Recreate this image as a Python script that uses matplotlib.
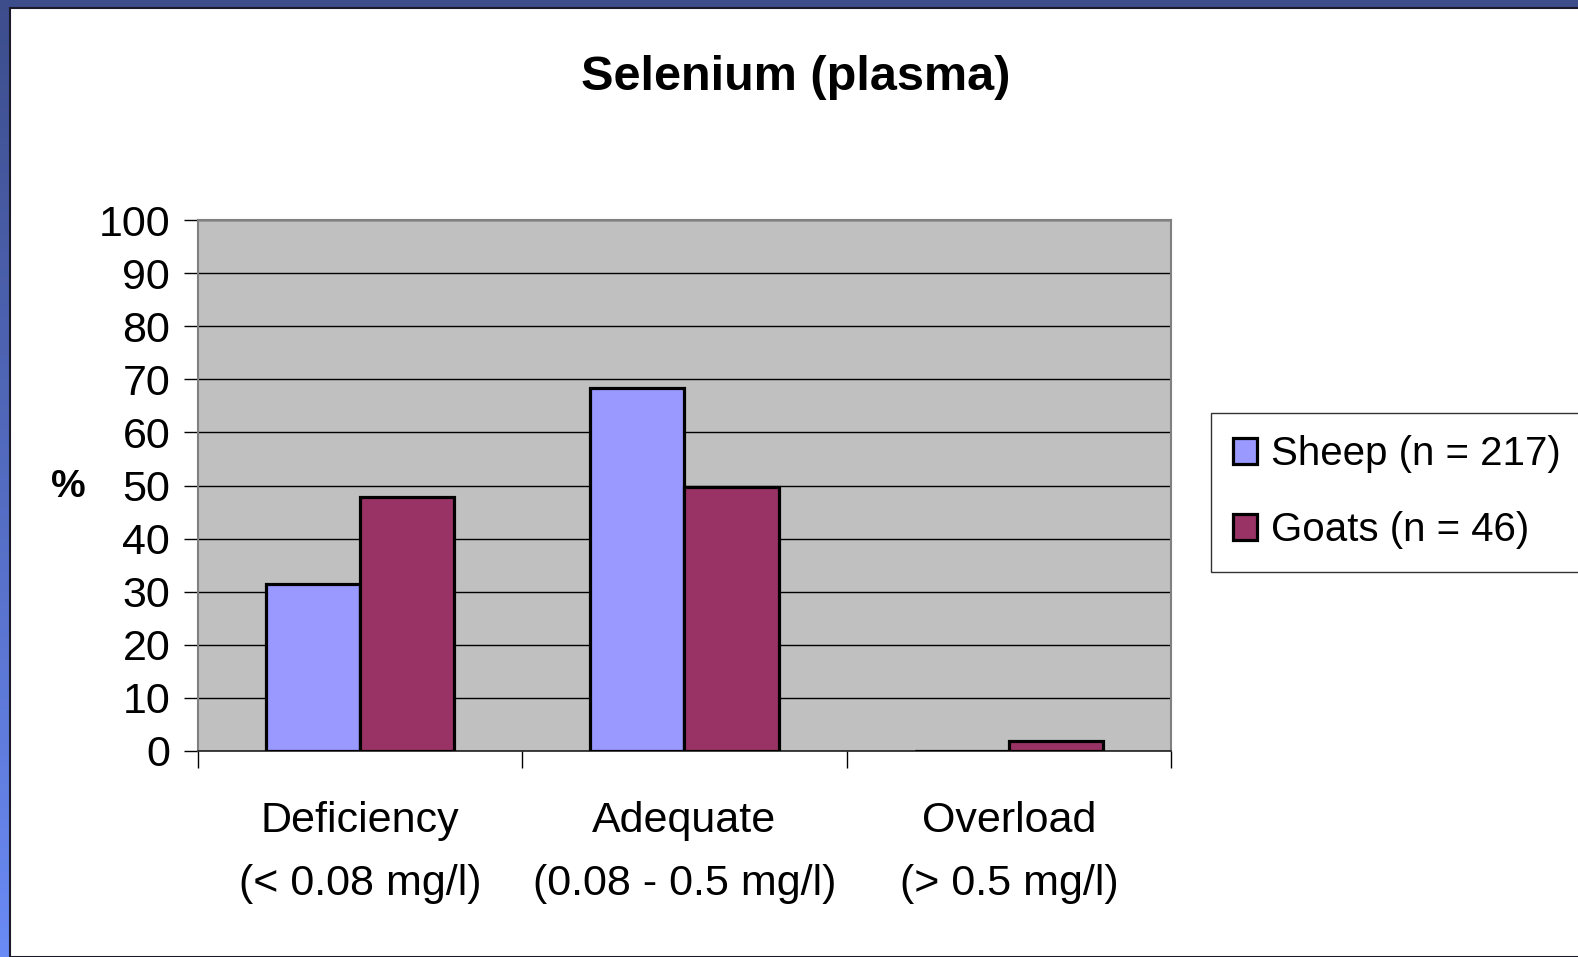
import numpy as np
import matplotlib.pyplot as plt
from matplotlib.patches import Rectangle

categories = ["Deficiency\n(< 0.08 mg/l)", "Adequate\n(0.08 - 0.5 mg/l)", "Overload\n(> 0.5 mg/l)"]
sheep = [31.5, 68.3, 0.0]
goats = [47.8, 49.8, 1.9]
series_names = ["Sheep (n = 217)", "Goats (n = 46)"]
yticks = list(range(0, 101, 10))

W, H = 1578, 957
plt.rcParams['font.family'] = ['Liberation Sans', 'DejaVu Sans']
fig = plt.figure(figsize=(W / 100, H / 100), dpi=100)

# slide frame: blue gradient strips at left and top
bg = fig.add_axes([0, 0, 1, 1], zorder=-10)
grad = np.linspace(0, 1, 256).reshape(-1, 1)
top_c = np.array([0x3d, 0x4d, 0x8c]) / 255
bot_c = np.array([0x6a, 0x8a, 0xf5]) / 255
img = top_c + (bot_c - top_c) * grad[..., None]
bg.imshow(img, aspect="auto", extent=[0, 1, 0, 1], origin="upper")
bg.add_patch(Rectangle((10 / W, 0), 1, 1 - 8 / H, facecolor="white",
                       edgecolor="#1a1a2a", linewidth=1.5))
bg.set_xlim(0, 1); bg.set_ylim(0, 1); bg.axis("off")

ax = fig.add_axes([198 / W, 1 - 751 / H, (1171 - 198) / W, (751 - 220) / H])
ax.set_facecolor("#c0c0c0")
x = np.arange(len(categories))
bw = 0.29
ax.bar(x - bw / 2, sheep, bw, color="#9999ff", edgecolor="black", linewidth=2.3,
       label=series_names[0], zorder=3)
ax.bar(x + bw / 2, goats, bw, color="#993366", edgecolor="black", linewidth=2.3,
       label=series_names[1], zorder=3)

ax.set_xlim(-0.5, 2.5)
ax.set_ylim(0, 100)
ax.set_yticks(yticks)
ax.yaxis.grid(True, color="black", linewidth=1.0, zorder=0)
ax.tick_params(axis="y", labelsize=31, length=10, width=1, pad=10, direction="out")
ax.set_xticks([-0.5, 0.5, 1.5, 2.5])
ax.set_xticklabels([])
ax.tick_params(axis="x", which="major", length=12, width=1, direction="out")
ax.set_xticks(x, minor=True)
ax.set_xticklabels(categories, minor=True, fontsize=31, linespacing=1.75)
ax.tick_params(axis="x", which="minor", length=0, pad=36)
for s in ax.spines.values():
    s.set_color("#808080"); s.set_linewidth(1.5)
ax.spines["bottom"].set_color("#202020")
ax.spines["bottom"].set_linewidth(1.2)

fig.text(68 / W, 1 - 487 / H, "%", fontsize=28, fontweight="bold", ha="center", va="center")
fig.text(796 / W, 1 - 78 / H, "Selenium (plasma)", fontsize=35, fontweight="bold",
         ha="center", va="center")

leg = ax.legend(loc="upper left", bbox_to_anchor=(1211 / W, 1 - 413 / H),
                bbox_transform=fig.transFigure, fontsize=29, frameon=True,
                fancybox=False, edgecolor="black", handlelength=0.6, handleheight=0.6,
                handletextpad=0.35, borderpad=0.55, labelspacing=0.95, borderaxespad=0)
leg.get_frame().set_linewidth(1.0)

fig.savefig("out.png", dpi=100)
